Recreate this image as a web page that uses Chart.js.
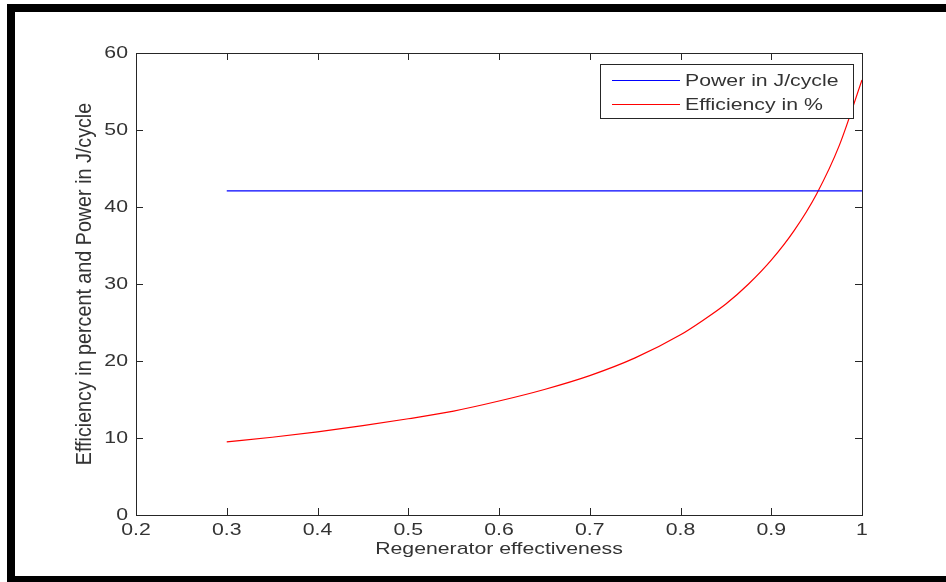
<!DOCTYPE html>
<html>
<head>
<meta charset="utf-8">
<title>Regenerator effectiveness</title>
<script src="https://cdn.jsdelivr.net/npm/chart.js@4/dist/chart.umd.min.js"></script>
<style>
  html, body { margin: 0; padding: 0; background: #fff; }
  canvas { display: block; }
</style>
</head>
<body>
<canvas id="chart" width="946" height="582"></canvas>
<script>
// Regenerator effectiveness (x) and the resulting cycle efficiency in percent
const effectiveness = [0.30, 0.35, 0.40, 0.45, 0.50, 0.55, 0.60, 0.65, 0.70, 0.75, 0.80, 0.825, 0.85, 0.875, 0.90, 0.925, 0.95, 0.975, 1.00];
const efficiencyPct = [9.5, 10.1, 10.8, 11.6, 12.5, 13.5, 14.8, 16.3, 18.1, 20.4, 23.4, 25.3, 27.4, 30.0, 33.1, 36.9, 41.7, 48.0, 56.5];

// Power output per cycle does not depend on the regenerator
const powerEffectiveness = [0.30, 1.00];
const powerJPerCycle = [42.1, 42.1];

// Axis ticks
const xTicks = [0.2, 0.3, 0.4, 0.5, 0.6, 0.7, 0.8, 0.9, 1.0];
const xTickLabels = ['0.2', '0.3', '0.4', '0.5', '0.6', '0.7', '0.8', '0.9', '1'];
const yTicks = [0, 10, 20, 30, 40, 50, 60];
const yTickLabels = ['0', '10', '20', '30', '40', '50', '60'];

const seriesNames = ['Power in J/cycle', 'Efficiency in %'];
const seriesColors = ['#0000ff', '#ff0000'];

const FONT_FAMILY = '"Liberation Sans", Arial, Helvetica, sans-serif';
const FONT_SIZE = 17;
const TEXT_COLOR = '#333';
const AXIS_COLOR = '#262626';
// The exported figure was resized unevenly: text is wider than tall
const STRETCH_X = 1.25;
const STRETCH_Y_ROTATED = 1.16;

const canvas = document.getElementById('chart');
const context = canvas.getContext('2d');

// Stretch all text in page space about its anchor point
const baseFillText = context.fillText;
context.fillText = function (text, x, y, maxWidth) {
  const m = this.getTransform();
  const p = m.transformPoint(new DOMPoint(x, y));
  const rotated = Math.abs(m.b) > 1e-6;
  const sy = rotated ? STRETCH_Y_ROTATED : 1;
  this.save();
  this.setTransform(new DOMMatrix().translate(p.x, p.y).scale(STRETCH_X, sy).translate(-p.x, -p.y).multiply(m));
  if (maxWidth === undefined) baseFillText.call(this, text, x, y);
  else baseFillText.call(this, text, x, y, maxWidth / STRETCH_X);
  this.restore();
};

const toPoints = (xs, ys) => xs.map((v, i) => ({ x: v, y: ys[i] }));

// Black frame around the figure
const pageFrame = {
  id: 'pageFrame',
  beforeDraw(chart) {
    const c = chart.ctx;
    c.save();
    c.fillStyle = '#fff';
    c.fillRect(0, 0, chart.width, chart.height);
    c.fillStyle = '#000';
    c.fillRect(7, 4, chart.width - 7, 8);
    c.fillRect(7, 4, 8, chart.height - 4);
    c.fillRect(7, 576, chart.width - 7, 6);
    c.restore();
  }
};

// Axes box with inward tick marks on all four sides
const axesBox = {
  id: 'axesBox',
  afterDatasetsDraw(chart) {
    const { ctx: c, chartArea: a, scales: { x, y } } = chart;
    const L = 7;
    c.save();
    c.strokeStyle = AXIS_COLOR;
    c.lineWidth = 1;
    c.beginPath();
    x.ticks.forEach(t => {
      const px = Math.round(x.getPixelForValue(t.value)) + 0.5;
      c.moveTo(px, a.bottom); c.lineTo(px, a.bottom - L);
      c.moveTo(px, a.top); c.lineTo(px, a.top + L);
    });
    y.ticks.forEach(t => {
      const py = Math.round(y.getPixelForValue(t.value)) + 0.5;
      c.moveTo(a.left, py); c.lineTo(a.left + L, py);
      c.moveTo(a.right, py); c.lineTo(a.right - L, py);
    });
    c.stroke();
    c.strokeRect(Math.round(a.left) + 0.5, Math.round(a.top) + 0.5,
                 Math.round(a.right - a.left), Math.round(a.bottom - a.top));
    c.restore();
  }
};

// Legend box in the upper right corner of the plot
const insetLegend = {
  id: 'insetLegend',
  afterDraw(chart) {
    const { ctx: c, chartArea: a } = chart;
    const w = 253, h = 54;
    const left = Math.round(a.right) - 9 - w;
    const top = Math.round(a.top) + 11;
    c.save();
    c.fillStyle = '#fff';
    c.fillRect(left, top, w, h);
    c.strokeStyle = AXIS_COLOR;
    c.lineWidth = 1;
    c.strokeRect(left + 0.5, top + 0.5, w, h);
    chart.data.datasets.forEach((ds, i) => {
      const yy = top + 16 + i * 24;
      c.strokeStyle = ds.borderColor;
      c.lineWidth = 1.2;
      c.beginPath();
      c.moveTo(left + 12, yy + 0.5);
      c.lineTo(left + 80, yy + 0.5);
      c.stroke();
      c.fillStyle = TEXT_COLOR;
      c.font = FONT_SIZE + 'px ' + FONT_FAMILY;
      c.textAlign = 'left';
      c.textBaseline = 'middle';
      c.fillText(ds.label, left + 85, yy + 1);
    });
    c.restore();
  }
};

const font = { family: FONT_FAMILY, size: FONT_SIZE };

new Chart(context, {
  type: 'line',
  data: {
    datasets: [
      {
        label: seriesNames[0],
        data: toPoints(powerEffectiveness, powerJPerCycle),
        borderColor: seriesColors[0],
        borderWidth: 1.2,
        pointRadius: 0,
        fill: false
      },
      {
        label: seriesNames[1],
        data: toPoints(effectiveness, efficiencyPct),
        borderColor: seriesColors[1],
        borderWidth: 1.2,
        pointRadius: 0,
        cubicInterpolationMode: 'monotone',
        fill: false
      }
    ]
  },
  options: {
    responsive: false,
    animation: false,
    devicePixelRatio: 1,
    layout: { padding: { top: 53, right: 84, left: 0, bottom: 0 } },
    plugins: { legend: { display: false }, tooltip: { enabled: false } },
    scales: {
      x: {
        type: 'linear',
        min: 0.2,
        max: 1,
        afterBuildTicks: s => { s.ticks = xTicks.map(v => ({ value: v })); },
        afterFit: s => { s.height = 67; },
        grid: { display: false, drawTicks: false },
        border: { display: false },
        ticks: {
          autoSkip: false,
          maxRotation: 0,
          padding: 5,
          color: TEXT_COLOR,
          font,
          callback: (v, i) => xTickLabels[i]
        },
        title: {
          display: true,
          text: 'Regenerator effectiveness',
          color: TEXT_COLOR,
          font,
          padding: { top: 0, bottom: 22 }
        }
      },
      y: {
        type: 'linear',
        min: 0,
        max: 60,
        afterBuildTicks: s => { s.ticks = yTicks.map(v => ({ value: v })); },
        afterFit: s => { s.width = 136; },
        grid: { display: false, drawTicks: false },
        border: { display: false },
        ticks: {
          autoSkip: false,
          padding: 8,
          color: TEXT_COLOR,
          font,
          callback: (v, i) => yTickLabels[i]
        },
        title: {
          display: true,
          text: 'Efficiency in percent and Power in J/cycle',
          color: TEXT_COLOR,
          font,
          padding: { top: 75, bottom: 0 }
        }
      }
    }
  },
  plugins: [pageFrame, axesBox, insetLegend]
});
</script>
</body>
</html>
